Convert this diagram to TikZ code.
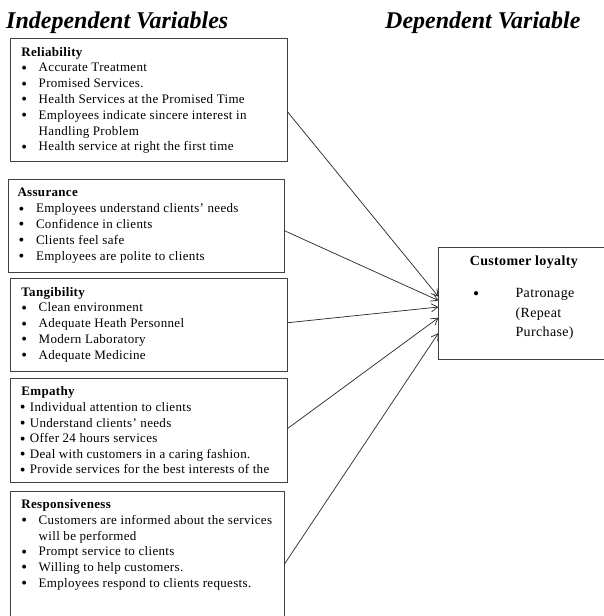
\documentclass[tikz,border=0pt]{standalone}
\usepackage{graphicx}
\usepackage{fontspec}
\setmainfont{Liberation Serif}
\newfontfamily\bodyfont[LetterSpace=2.5]{Liberation Serif}
\usetikzlibrary{arrows.meta,calc}
% bullet: #1 = shift of the dot, #2 = distance from line start to text
\newcommand{\bul}[2]{\makebox[#2][l]{\hspace{#1}\raisebox{-1.4pt}{\scalebox{1.25}{\textbullet}}}}
\newcommand{\ttl}[1]{\rule{0pt}{10pt}\textbf{#1}}
\begin{document}
\begin{tikzpicture}[x=1pt,y=-1pt,
  varbox/.style={draw=black!75, line width=0.75pt, anchor=north west, inner sep=0pt, outer sep=0pt},
  txt/.style={anchor=north west, inner sep=0pt, align=left, font=\bodyfont\fontsize{13}{15.8}\selectfont},
  headtxt/.style={anchor=base west, inner sep=0pt, font=\fontsize{24}{28}\selectfont\bfseries\itshape},
  conn/.style={draw=black!85, line width=0.7pt, -{Straight Barb[length=6.5pt,width=8pt]}}]
\useasboundingbox (0,0) rectangle (604,616);
\clip (0,0) rectangle (604,616);
\fill[white] (0,0) rectangle (604,616);

% headings
\node[headtxt] (hind) at (6,28) {Independent Variables};
\node[headtxt] (hdep) at (385,28) {Dependent Variable};

% boxes
\node[varbox, minimum width=276.6pt, minimum height=123.3pt] (rel) at (10.8,38.5) {};
\node[varbox, minimum width=275.5pt, minimum height=93pt] (ass) at (8.5,179) {};
\node[varbox, minimum width=276.6pt, minimum height=92.5pt] (tan) at (10.8,278.5) {};
\node[varbox, minimum width=276.6pt, minimum height=103.7pt] (emp) at (10.8,378.6) {};
\node[varbox, minimum width=273.5pt, minimum height=135pt] (res) at (10.8,491) {};
\node[varbox, minimum width=180pt, minimum height=112pt] (loy) at (438.4,247) {};

% texts
\node[txt] (relt) at (21.2,45.8) {\ttl{Reliability}\\
\bul{0pt}{17.3pt}Accurate Treatment\\
\bul{0pt}{17.3pt}Promised Services.\\
\bul{0pt}{17.3pt}Health Services at the Promised Time\\
\bul{0pt}{17.3pt}Employees indicate sincere interest in\\
\hspace*{17.3pt}Handling Problem\\
\bul{0pt}{17.3pt}Health service at right the first time};

\node[txt, font=\bodyfont\fontsize{13}{15.9}\selectfont] (asst) at (17.3,186.5) {\ttl{Assurance}\\
\bul{1.2pt}{18.5pt}Employees understand clients’ needs\\
\bul{1.2pt}{18.5pt}Confidence in clients\\
\bul{1.2pt}{18.5pt}Clients feel safe\\
\bul{1.2pt}{18.5pt}Employees are polite to clients};

\node[txt] (tant) at (21.2,285.8) {\ttl{Tangibility}\\
\bul{0pt}{17.3pt}Clean environment\\
\bul{0pt}{17.3pt}Adequate Heath Personnel\\
\bul{0pt}{17.3pt}Modern Laboratory\\
\bul{0pt}{17.3pt}Adequate Medicine};

\node[txt, font=\bodyfont\fontsize{13}{15.6}\selectfont] (empt) at (19.7,385.6) {\ttl{\hspace*{1.5pt}Empathy}\\
\bul{0pt}{10pt}Individual attention to clients\\
\bul{0pt}{10pt}Understand clients’ needs\\
\bul{0pt}{10pt}Offer 24 hours services\\
\bul{0pt}{10pt}Deal with customers in a caring fashion.\\
\bul{0pt}{10pt}Provide services for the best interests of the};

\node[txt, font=\bodyfont\fontsize{13}{15.7}\selectfont] (rest) at (21.2,498.5) {\ttl{Responsiveness}\\
\bul{0pt}{17.3pt}Customers are informed about the services\\
\hspace*{17.3pt}will be performed\\
\bul{0pt}{17.3pt}Prompt service to clients\\
\bul{0pt}{17.3pt}Willing to help customers.\\
\bul{0pt}{17.3pt}Employees respond to clients requests.};

\node[anchor=base, inner sep=0pt, font=\bodyfont\fontsize{14}{20}\selectfont\bfseries] (loyh) at (523.8,265.8) {Customer loyalty};
\node[anchor=north west, inner sep=0pt, align=left, font=\bodyfont\fontsize{14}{19.5}\selectfont] (loyt) at (473,287.4)
 {\rule{0pt}{10pt}\bul{0pt}{42.4pt}Patronage\\
 \hspace*{42.4pt}(Repeat\\
 \hspace*{42.4pt}Purchase)};

% connectors
\draw[conn] ([yshift=-11.5pt]rel.east) -- ([yshift=6.4pt]loy.west);
\draw[conn] ([yshift=-5pt]ass.east) -- ([yshift=2.5pt]loy.west);
\draw[conn] ([yshift=2pt]tan.east) -- ([yshift=-4pt]loy.west);
\draw[conn] ([yshift=1.8pt]emp.east) -- ([yshift=-14.8pt]loy.west);
\draw[conn] ([yshift=-5.8pt]res.east) -- ([yshift=-30.2pt]loy.west);
\end{tikzpicture}
\end{document}
